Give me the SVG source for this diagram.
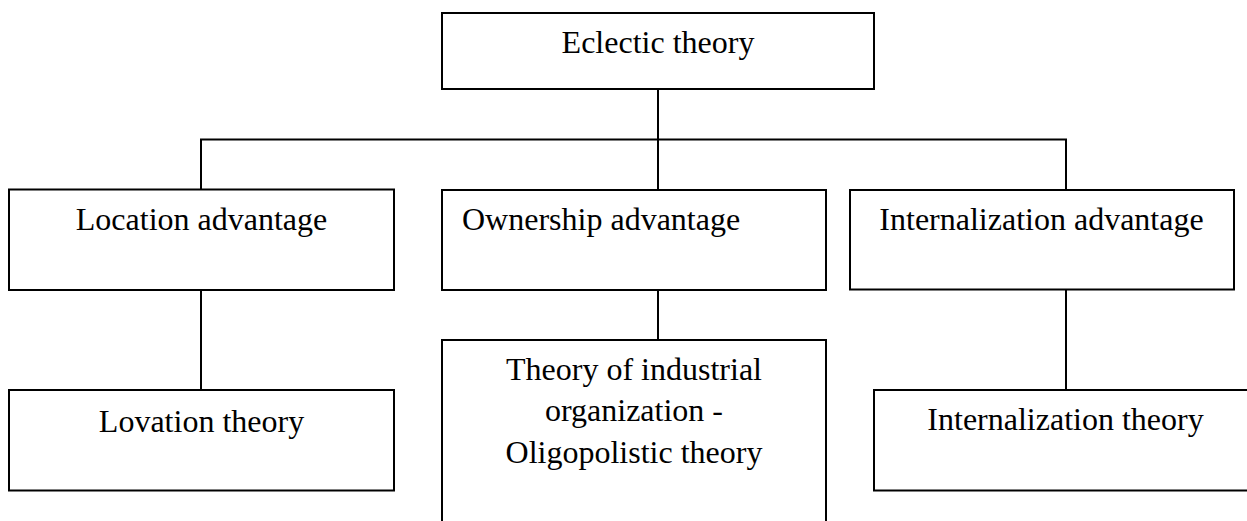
<svg xmlns="http://www.w3.org/2000/svg" width="1247" height="521" viewBox="0 0 1247 521">
<style>
.box{fill:#fff;stroke:#000;stroke-width:2}
.ln{fill:none;stroke:#000;stroke-width:2}
text{font-family:"Liberation Serif","Times New Roman",serif;font-size:32px;fill:#000}
.c{text-anchor:middle}
</style>
<rect width="1247" height="521" fill="#fff"/>
<g id="connectors">
<line class="ln" x1="658" y1="89" x2="658" y2="190"/>
<polyline class="ln" points="201,190 201,139.5 1066,139.5 1066,190"/>
<line class="ln" x1="201" y1="290" x2="201" y2="390"/>
<line class="ln" x1="658" y1="290" x2="658" y2="340"/>
<line class="ln" x1="1066" y1="290" x2="1066" y2="390"/>
</g>
<g id="eclectic">
<rect class="box" x="442" y="13" width="432" height="76"/>
<text class="c" x="658" y="53">Eclectic theory</text>
</g>
<g id="location">
<rect class="box" x="9" y="189.5" width="385" height="100.5"/>
<text class="c" x="201.5" y="230">Location advantage</text>
</g>
<g id="ownership">
<rect class="box" x="442" y="190" width="384" height="100"/>
<text x="462" y="230">Ownership advantage</text>
</g>
<g id="internalization">
<rect class="box" x="850" y="190" width="384" height="99.5"/>
<text class="c" x="1041.5" y="230">Internalization advantage</text>
</g>
<g id="lovation">
<rect class="box" x="9" y="390" width="385" height="100.5"/>
<text class="c" x="201.5" y="431.5">Lovation theory</text>
</g>
<g id="industrial">
<rect class="box" x="442" y="340" width="384" height="200"/>
<text class="c" x="634" y="380">Theory of industrial</text>
<text class="c" x="634" y="421">organization -</text>
<text class="c" x="634" y="463">Oligopolistic theory</text>
</g>
<g id="internalization-theory">
<rect class="box" x="874" y="390" width="400" height="100.5"/>
<text class="c" x="1065.5" y="430">Internalization theory</text>
</g>
</svg>
